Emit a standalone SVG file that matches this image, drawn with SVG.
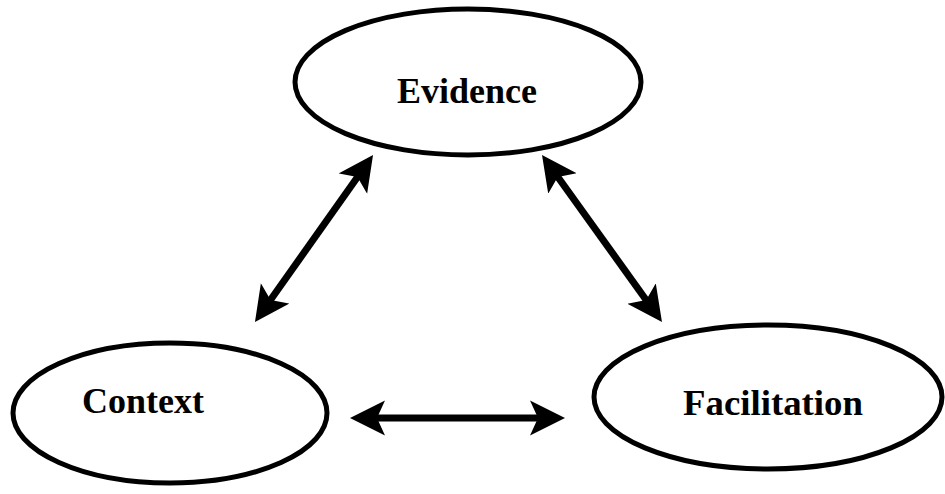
<svg xmlns="http://www.w3.org/2000/svg" width="945" height="494" viewBox="0 0 945 494">
<style>
.node{fill:#fff;stroke:#000;stroke-width:5}
.lbl{font-family:"Liberation Serif","Times New Roman",serif;font-weight:bold;font-size:36px;fill:#000}
.conn{stroke:#000;stroke-width:7;fill:none;marker-start:url(#ah);marker-end:url(#ah)}
</style>
<defs>
<marker id="ah" markerUnits="userSpaceOnUse" viewBox="0 -18 36 36" markerWidth="36" markerHeight="36" refX="10" refY="0" orient="auto-start-reverse">
<path d="M0,-17.5 L35,0 L0,17.5 L8,0 Z" fill="#000"/>
</marker>
</defs>
<rect width="945" height="494" fill="#fff"/>
<g id="evidence">
<ellipse class="node" cx="468" cy="82" rx="173" ry="73"/>
<text class="lbl" x="397" y="103">Evidence</text>
</g>
<g id="context">
<ellipse class="node" cx="170" cy="413" rx="157" ry="70"/>
<text class="lbl" x="82" y="413">Context</text>
</g>
<g id="facilitation">
<ellipse class="node" cx="768" cy="397" rx="174" ry="72"/>
<text class="lbl" x="683" y="415" textLength="180" lengthAdjust="spacingAndGlyphs">Facilitation</text>
</g>
<g id="connectors">
<line class="conn" x1="269.4" y1="301.6" x2="358.6" y2="175.4"/>
<line class="conn" x1="556.6" y1="175.3" x2="647.4" y2="301.7"/>
<line class="conn" x1="375" y1="418" x2="540" y2="418"/>
</g>
</svg>
